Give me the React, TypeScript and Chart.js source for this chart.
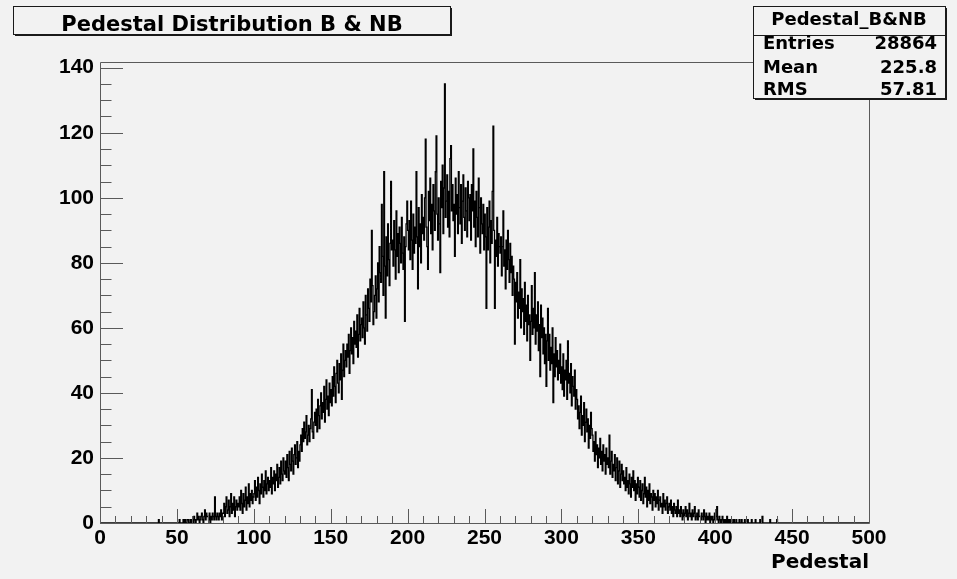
import React, { useEffect, useRef } from "react";
import { Chart, registerables } from "chart.js";

Chart.register(...registerables);

// ---- Data (histogram "Pedestal_B&NB", bin width 0.5, first listed bin starts at 30) ----
const BIN_WIDTH = 0.5;
const FIRST_BIN_LOW = 30;

// 30 .. 100 (each row = 10 units = 20 bins)
const countsTail30to100 = [
  0, 0, 0, 0, 0, 0, 0, 0, 0, 0, 0, 0, 0, 0, 0, 0, 1, 0, 0, 0,
  0, 0, 0, 0, 0, 0, 0, 0, 0, 0, 0, 0, 0, 0, 0, 0, 0, 0, 0, 0,
  0, 0, 0, 1, 0, 0, 0, 0, 1, 0, 1, 0, 0, 1, 1, 0, 0, 1, 0, 1,
  1, 0, 2, 1, 0, 1, 3, 1, 2, 0, 1, 2, 3, 1, 0, 2, 4, 1, 3, 2,
  2, 1, 3, 0, 2, 1, 3, 2, 1, 8, 2, 1, 3, 2, 1, 3, 2, 4, 1, 3,
  3, 6, 2, 5, 8, 3, 4, 7, 2, 5, 9, 3, 6, 4, 8, 2, 5, 7, 4, 6,
  5, 8, 4, 10, 6, 3, 9, 5, 7, 11, 4, 8, 6, 12, 5, 9, 7, 10, 6, 8,
];

// 100 .. 180
const countsRise100to180 = [
  9, 13, 7, 11, 8, 14, 10, 6, 12, 9, 15, 11, 8, 13, 10, 16, 9, 12, 14, 10,
  13, 11, 17, 9, 14, 12, 16, 10, 15, 13, 18, 11, 14, 17, 12, 19, 15, 13, 20, 16,
  15, 19, 14, 21, 17, 13, 22, 18, 16, 23, 19, 15, 21, 24, 18, 20, 25, 17, 22, 19,
  24, 27, 22, 29, 25, 31, 26, 28, 33, 24, 27, 30, 25, 29, 32, 41, 28, 26, 31, 34,
  30, 35, 28, 38, 33, 29, 36, 40, 32, 37, 34, 42, 31, 38, 44, 35, 39, 33, 43, 37,
  41, 36, 45, 39, 48, 42, 37, 46, 50, 43, 40, 49, 44, 52, 38, 47, 55, 45, 50, 53,
  48, 55, 51, 58, 46, 53, 60, 52, 57, 49, 62, 55, 59, 54, 64, 51, 58, 66, 56, 61,
  63, 57, 68, 60, 55, 70, 64, 59, 72, 66, 62, 75, 68, 90, 73, 61, 65, 70, 76, 63,
];

// 180 .. 280
const countsPeak180to280 = [
  72, 80, 68, 85, 77, 74, 98, 82, 70, 108, 79, 63, 88, 76, 92, 81, 73, 86, 105, 84,
  87, 79, 93, 84, 75, 96, 82, 89, 77, 91, 86, 80, 94, 83, 78, 88, 62, 85, 92, 99,
  90, 84, 93, 81, 99, 87, 78, 95, 83, 91, 86, 108, 88, 72, 97, 85, 92, 80, 101, 89,
  94, 87, 100, 118, 91, 85, 78, 102, 93, 106, 89, 98, 84, 104, 96, 90, 108, 119, 95, 87,
  100, 92, 77, 105, 97, 110, 89, 103, 135, 94, 99, 107, 91, 102, 88, 112, 116, 96, 104, 93,
  98, 82, 106, 95, 101, 89, 108, 97, 92, 104, 86, 99, 107, 94, 90, 103, 96, 88, 105, 100,
  93, 101, 87, 104, 96, 115, 91, 99, 85, 102, 94, 88, 106, 97, 83, 100, 92, 89, 98, 84,
  95, 88, 66, 97, 84, 91, 99, 80, 93, 86, 102, 122, 90, 66, 87, 82, 94, 79, 89, 85,
  83, 88, 76, 85, 96, 79, 84, 72, 87, 78, 90, 81, 74, 86, 77, 82, 70, 79, 75, 55,
  74, 68, 77, 63, 71, 66, 81, 60, 72, 65, 69, 58, 74, 62, 67, 56, 70, 61, 64, 50,
];

// 280 .. 340
const countsFall280to340 = [
  62, 73, 58, 66, 60, 77, 55, 64, 59, 68, 53, 61, 45, 67, 57, 63, 52, 60, 49, 58,
  42, 56, 66, 50, 58, 47, 54, 49, 60, 37, 52, 45, 57, 48, 53, 44, 50, 46, 55, 43,
  48, 41, 52, 39, 47, 44, 50, 38, 56, 43, 46, 40, 49, 36, 45, 42, 39, 47, 35, 41,
  38, 32, 36, 29, 34, 39, 27, 33, 30, 37, 25, 31, 35, 28, 32, 23, 30, 26, 34, 29,
  27, 22, 25, 19, 28, 21, 24, 17, 23, 20, 26, 18, 22, 16, 24, 19, 21, 15, 23, 18,
  20, 17, 27, 15, 19, 22, 14, 18, 16, 21, 13, 17, 20, 12, 16, 19, 11, 15, 18, 13,
];

// 340 .. 450
const countsTail340to450 = [
  16, 12, 14, 10, 17, 11, 13, 9, 15, 12, 8, 14, 11, 16, 10, 13, 7, 12, 9, 14,
  11, 8, 13, 7, 10, 12, 6, 9, 14, 8, 11, 5, 10, 7, 12, 6, 9, 8, 4, 10,
  7, 9, 5, 8, 6, 10, 4, 7, 8, 5, 6, 3, 9, 5, 7, 4, 6, 8, 3, 5,
  6, 4, 7, 3, 5, 2, 6, 4, 3, 5, 2, 7, 3, 4, 2, 5, 3, 1, 4, 2,
  3, 5, 2, 4, 1, 3, 6, 2, 3, 1, 4, 2, 3, 5, 1, 2, 3, 1, 4, 2,
  2, 1, 3, 2, 1, 4, 2, 0, 3, 1, 2, 1, 3, 0, 2, 1, 2, 0, 1, 3,
  1, 2, 5, 1, 0, 2, 1, 0, 1, 2, 0, 1, 0, 1, 0, 2, 0, 1, 0, 1,
  0, 1, 0, 0, 1, 0, 0, 1, 0, 0, 0, 1, 0, 0, 1, 0, 0, 0, 1, 0,
  0, 0, 1, 0, 0, 0, 0, 1, 0, 0, 0, 0, 1, 0, 0, 0, 0, 0, 1, 0,
  0, 2, 0, 0, 0, 0, 0, 0, 0, 0, 0, 1, 0, 0, 0, 0, 0, 0, 0, 0,
  1, 0, 0, 0, 0, 0, 0, 0, 0, 0, 0, 0, 0, 0, 0, 0, 0, 0, 0, 0,
];

const X_MIN = 0;
const X_MAX = 500;
const Y_MAX = 141.75;
const xTickValues = [0, 50, 100, 150, 200, 250, 300, 350, 400, 450, 500];
const yTickValues = [0, 20, 40, 60, 80, 100, 120, 140];

const titleText = "Pedestal Distribution B & NB";
const xAxisTitle = "Pedestal";
const statsTitle = "Pedestal_B&NB";
const statsLabels = ["Entries", "Mean", "RMS"];
const statsValues = ["28864", "225.8", "57.81"];

const FONT = '"Liberation Sans", Arial, Helvetica, sans-serif';
const WIDE_FONT = '"DejaVu Sans", "Liberation Sans", sans-serif';
const BG = "#f2f2f2";

export default function App() {
  const canvasRef = useRef<HTMLCanvasElement | null>(null);

  useEffect(() => {
    const canvas = canvasRef.current;
    if (!canvas) return;

    const allCounts = [
      ...countsTail30to100,
      ...countsRise100to180,
      ...countsPeak180to280,
      ...countsFall280to340,
      ...countsTail340to450,
    ];
    const points: { x: number; y: number }[] = [{ x: X_MIN, y: 0 }];
    allCounts.forEach((c, i) => {
      points.push({ x: FIRST_BIN_LOW + i * BIN_WIDTH + BIN_WIDTH / 2, y: c });
    });
    points.push({ x: X_MAX, y: 0 });

    const rootFrame = {
      id: "rootFrame",
      beforeDraw(chart: any) {
        const ctx = chart.ctx;
        ctx.save();
        ctx.fillStyle = BG;
        ctx.fillRect(0, 0, chart.width, chart.height);
        ctx.restore();
      },
      afterDatasetsDraw(chart: any) {
        const ctx = chart.ctx;
        const a = chart.chartArea;
        const xs = chart.scales.x;
        const ys = chart.scales.y;
        ctx.save();
        ctx.strokeStyle = "#5a5a5a";
        ctx.lineWidth = 1;
        ctx.beginPath();
        ctx.rect(Math.round(a.left) + 0.5, Math.round(a.top) + 0.5, Math.round(a.right - a.left), Math.round(a.bottom - a.top));
        ctx.stroke();
        const yMajLen = 23;
        for (let v = 0; v <= 140; v += 5) {
          const py = Math.round(ys.getPixelForValue(v)) + 0.5;
          const len = v % 20 === 0 ? yMajLen : yMajLen / 2;
          ctx.beginPath();
          ctx.moveTo(a.left, py);
          ctx.lineTo(a.left + len, py);
          ctx.stroke();
        }
        const xMajLen = 14;
        for (let v = 0; v <= 500; v += 10) {
          const px = Math.round(xs.getPixelForValue(v)) + 0.5;
          const len = v % 50 === 0 ? xMajLen : xMajLen / 2;
          ctx.beginPath();
          ctx.moveTo(px, a.bottom);
          ctx.lineTo(px, a.bottom - len);
          ctx.stroke();
        }
        ctx.restore();
      },
      afterDraw(chart: any) {
        const ctx = chart.ctx;
        ctx.save();
        const drawPave = (x1: number, y1: number, x2: number, y2: number) => {
          ctx.fillStyle = BG;
          ctx.fillRect(x1, y1, x2 - x1, y2 - y1);
          ctx.strokeStyle = "#1a1a1a";
          ctx.lineWidth = 1;
          ctx.strokeRect(x1 + 0.5, y1 + 0.5, x2 - x1, y2 - y1);
          ctx.fillStyle = "#1a1a1a";
          ctx.fillRect(x2, y1 + 2, 2, y2 - y1);
          ctx.fillRect(x1 + 2, y2, x2 - x1, 2);
        };
        // Title pave
        drawPave(13, 6, 450, 34);
        ctx.fillStyle = "#000";
        ctx.font = `bold 21px ${WIDE_FONT}`;
        ctx.textAlign = "center";
        ctx.textBaseline = "alphabetic";
        ctx.fillText(titleText, 232, 31);

        // Stats pave
        drawPave(753, 6, 945, 98);
        ctx.strokeStyle = "#1a1a1a";
        ctx.beginPath();
        ctx.moveTo(753, 35.5);
        ctx.lineTo(945, 35.5);
        ctx.stroke();
        ctx.fillStyle = "#000";
        ctx.font = `bold 18px ${WIDE_FONT}`;
        ctx.textAlign = "center";
        ctx.fillText(statsTitle, 849, 25);
        const rowBase = [49, 72.5, 95];
        statsLabels.forEach((lab, i) => {
          ctx.textAlign = "left";
          ctx.fillText(lab, 763, rowBase[i]);
          ctx.textAlign = "right";
          ctx.fillText(statsValues[i], 937, rowBase[i]);
        });
        ctx.restore();
      },
    };

    const chart = new Chart(canvas, {
      type: "line",
      data: {
        datasets: [
          {
            label: statsTitle,
            data: points,
            borderColor: "#000",
            borderWidth: 1.3,
            pointRadius: 0,
            stepped: "middle",
            fill: false,
            tension: 0,
          },
        ],
      },
      options: {
        animation: false,
        responsive: false,
        devicePixelRatio: 1,
        layout: { padding: { top: 62, right: 88, left: 0, bottom: 0 } },
        plugins: { legend: { display: false }, tooltip: { enabled: false }, title: { display: false } },
        scales: {
          x: {
            type: "linear",
            min: X_MIN,
            max: X_MAX,
            grid: { display: false },
            border: { display: false },
            afterBuildTicks: (s: any) => {
              s.ticks = xTickValues.map((v) => ({ value: v }));
            },
            afterFit: (s: any) => {
              s.height = 56;
            },
            ticks: {
              color: "#000",
              font: { family: FONT, size: 21, weight: "bold" },
              padding: -5,
              maxRotation: 0,
              autoSkip: false,
              callback: (v: any) => String(v),
            },
            title: {
              display: true,
              text: xAxisTitle,
              align: "end",
              color: "#000",
              font: { family: WIDE_FONT, size: 20, weight: "bold" },
              padding: { top: 0, bottom: 4 },
            },
          },
          y: {
            type: "linear",
            min: 0,
            max: Y_MAX,
            grid: { display: false },
            border: { display: false },
            afterBuildTicks: (s: any) => {
              s.ticks = yTickValues.map((v) => ({ value: v }));
            },
            afterFit: (s: any) => {
              s.width = 100;
            },
            ticks: {
              color: "#000",
              font: { family: FONT, size: 21, weight: "bold" },
              padding: -2,
              autoSkip: false,
              callback: (v: any) => String(v),
            },
          },
        },
      },
      plugins: [rootFrame],
    } as any);

    return () => chart.destroy();
  }, []);

  return (
    <div style={{ position: "fixed", left: 0, top: 0, width: 957, height: 579, background: BG }}>
      <canvas ref={canvasRef} width={957} height={579} style={{ display: "block" }} />
    </div>
  );
}
